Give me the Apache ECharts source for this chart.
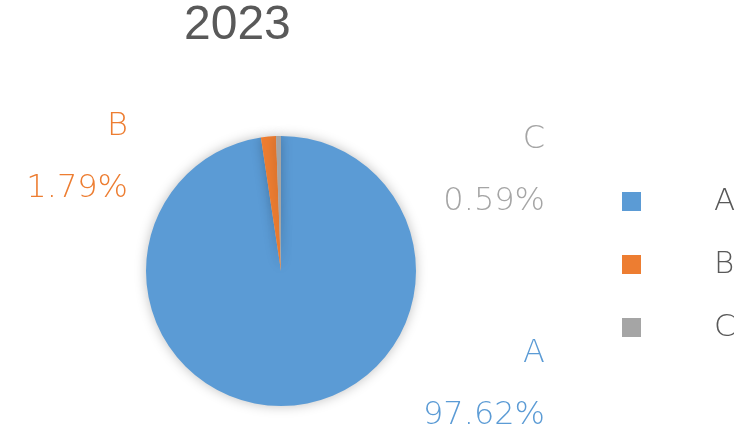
<!DOCTYPE html>
<html>
<head>
<meta charset="utf-8">
<script src="https://cdn.jsdelivr.net/npm/echarts@6/dist/echarts.min.js"></script>
<style>html,body{margin:0;padding:0;background:#fff;}#c{width:748px;height:433px;}</style>
</head>
<body>
<div id="c"></div>
<script>
const title = '2023';
const categories = ['A', 'B', 'C'];
const values = [97.62, 1.79, 0.59];
const colors = ['#5B9BD5', '#ED7D31', '#A5A5A5'];

const labelFont = 'DejaVu Sans';
const labelPos = [
  { x: 545, y: 385 },
  { x: 128, y: 158 },
  { x: 545, y: 171 }
];

const chart = echarts.init(document.getElementById('c'));
chart.setOption({
  animation: false,
  backgroundColor: '#ffffff',
  color: colors,
  title: {
    text: title,
    left: 184,
    top: 2,
    padding: 0,
    textStyle: { fontFamily: 'Liberation Sans', fontSize: 48, fontWeight: 'normal', color: '#595959' }
  },
  legend: {
    orient: 'vertical',
    left: 622,
    top: 186,
    padding: 0,
    itemWidth: 19,
    itemHeight: 19,
    itemGap: 32,
    icon: 'rect',
    data: categories,
    textStyle: { fontFamily: labelFont, fontWeight: 200, fontSize: 31, color: '#595959', lineHeight: 31, padding: [0, 0, 0, 68] }
  },
  series: [{
    type: 'pie',
    center: [281, 271],
    radius: 135,
    startAngle: 90,
    clockwise: true,
    data: categories.map((c, i) => ({ name: c, value: values[i] })),
    itemStyle: { shadowBlur: 12, shadowColor: 'rgba(0,0,0,0.25)', borderWidth: 0 },
    labelLine: { show: false },
    emphasis: { disabled: true },
    label: {
      show: true,
      position: 'outside',
      formatter: '{b}\n{d}%',
      fontFamily: labelFont,
      fontWeight: 200,
      fontSize: 32,
      lineHeight: 62,
      color: 'inherit',
      align: 'right',
      overflow: 'none',
      width: 200
    },
    labelLayout: function (p) {
      const pos = labelPos[p.dataIndex];
      return { x: pos.x, y: pos.y, align: 'right', verticalAlign: 'middle' };
    }
  }]
});
</script>
</body>
</html>
